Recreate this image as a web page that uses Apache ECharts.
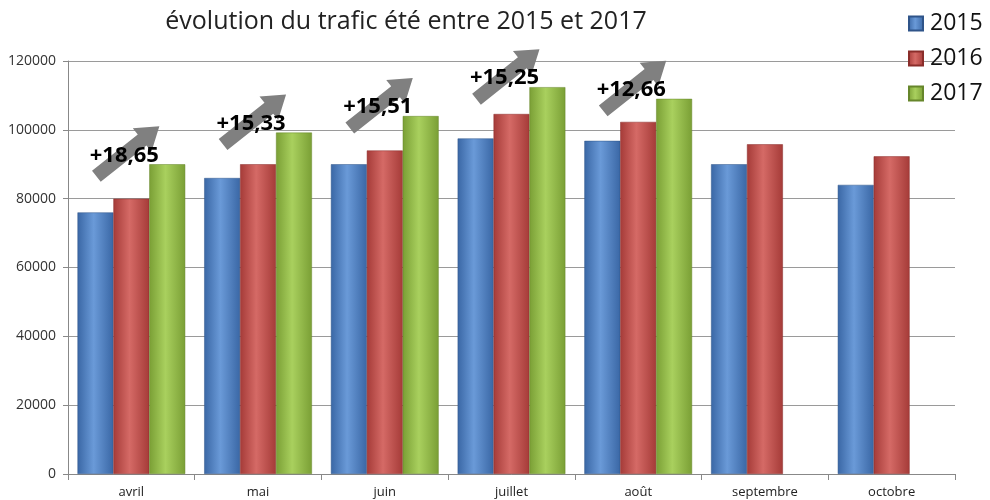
<!DOCTYPE html>
<html>
<head>
<meta charset="utf-8">
<script src="https://cdn.jsdelivr.net/npm/echarts@6/dist/echarts.min.js"></script>
<style>
  html, body { margin: 0; padding: 0; background: #fff; }
  #chart { width: 990px; height: 500px; }
</style>
</head>
<body>
<div id="chart"></div>
<script>
// données
const mois = ['avril', 'mai', 'juin', 'juillet', 'août', 'septembre', 'octobre']
const annees = ['2015', '2016', '2017']
const trafic2015 = [76000, 86000, 90000, 97500, 96800, 90000, 84000]
const trafic2016 = [80000, 90000, 94000, 104600, 102300, 95800, 92300]
const trafic2017 = [90000, 99200, 104000, 112400, 109000]
const evolution = ['+18,65', '+15,33', '+15,51', '+15,25', '+12,66']
const yTicks = [0, 20000, 40000, 60000, 80000, 100000, 120000]

// dégradé horizontal pour l'effet 3D des barres
function relief(dark, light) {
  return new echarts.graphic.LinearGradient(0, 0, 1, 0, [
    { offset: 0, color: dark },
    { offset: 0.45, color: light },
    { offset: 1, color: dark }
  ])
}

const couleurs = [
  relief('#3a67a5', '#6a9ad8'),
  relief('#a53b38', '#d56a66'),
  relief('#7a9f35', '#a9d05e')
]
const couleursLegende = ['#4f81bd', '#c0504d', '#9bbb59']

// flèche grise + pourcentage au-dessus de la barre 2017
function dessinerFleche(params, api) {
  const idx = api.value(0)
  const pt = api.coord([idx, api.value(1)])
  const cx = pt[0]
  const ex = cx + 28, ey = pt[1] - 38
  const sx = cx - 35, sy = ey + 50
  const dx = ex - sx, dy = ey - sy
  const len = Math.sqrt(dx * dx + dy * dy)
  const ux = dx / len, uy = dy / len
  const nx = -uy, ny = ux
  const shaft = 7, head = 15, headLen = 22
  const bx = ex - ux * headLen, by = ey - uy * headLen
  const poly = [
    [sx + nx * shaft, sy + ny * shaft],
    [bx + nx * shaft, by + ny * shaft],
    [bx + nx * head, by + ny * head],
    [ex, ey],
    [bx - nx * head, by - ny * head],
    [bx - nx * shaft, by - ny * shaft],
    [sx - nx * shaft, sy - ny * shaft]
  ]
  return {
    type: 'group',
    children: [
      { type: 'polygon', shape: { points: poly }, style: { fill: '#808080' } },
      {
        type: 'text',
        x: cx - 7,
        y: pt[1] - 9,
        style: {
          text: evolution[idx],
          fill: '#000',
          font: 'bold 22px "Open Sans", sans-serif',
          align: 'center',
          verticalAlign: 'middle'
        }
      }
    ]
  }
}

const chart = echarts.init(document.getElementById('chart'))
chart.setOption({
  animation: false,
  title: {
    text: 'évolution du trafic été entre 2015 et 2017',
    left: 401,
    top: 4,
    textAlign: 'center',
    textStyle: { fontFamily: '"Open Sans", sans-serif', fontSize: 25, fontWeight: 'normal', color: '#222' }
  },
  legend: {
    data: annees,
    orient: 'vertical',
    left: 903,
    top: 7,
    itemWidth: 14,
    itemHeight: 14,
    itemGap: 12,
    icon: 'rect',
    textStyle: { fontFamily: '"Open Sans", sans-serif', fontSize: 23, color: '#111', padding: [0, 0, 0, 2] }
  },
  grid: { left: 68, right: 35, top: 61, bottom: 26 },
  xAxis: {
    type: 'category',
    data: mois,
    axisLine: { lineStyle: { color: '#888' } },
    axisTick: { show: true, length: 6, lineStyle: { color: '#888' } },
    axisLabel: { color: '#222', fontSize: 13, fontFamily: '"Open Sans", sans-serif', margin: 12 }
  },
  yAxis: {
    type: 'value',
    min: yTicks[0],
    max: yTicks[yTicks.length - 1],
    interval: yTicks[1] - yTicks[0],
    axisLine: { show: true, lineStyle: { color: '#888' } },
    axisTick: { show: true, length: 5, lineStyle: { color: '#888' } },
    axisLabel: {
      color: '#333', fontSize: 14, fontFamily: '"Open Sans", sans-serif', margin: 12,
      formatter: v => String(v)
    },
    splitLine: { lineStyle: { color: '#9a9a9a', width: 1 } }
  },
  series: [
    {
      name: annees[0], type: 'bar', data: trafic2015,
      barGap: '0%', barCategoryGap: '15%',
      itemStyle: { color: couleurs[0], borderColor: '#2f5489', borderWidth: 0.5 }
    },
    {
      name: annees[1], type: 'bar', data: trafic2016,
      barGap: '0%', barCategoryGap: '15%',
      itemStyle: { color: couleurs[1], borderColor: '#8a2d2a', borderWidth: 0.5 }
    },
    {
      name: annees[2], type: 'bar', data: trafic2017,
      barGap: '0%', barCategoryGap: '15%',
      itemStyle: { color: couleurs[2], borderColor: '#66862b', borderWidth: 0.5 }
    },
    {
      type: 'custom',
      coordinateSystem: 'cartesian2d',
      renderItem: dessinerFleche,
      data: trafic2017.map((v, i) => [i, v]),
      z: 5,
      silent: true
    }
  ],
  color: couleursLegende
})
</script>
</body>
</html>
